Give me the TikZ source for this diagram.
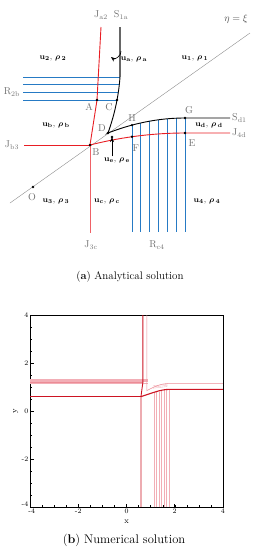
\documentclass[tikz,border=0pt]{standalone}
\usepackage{amsmath}
\usepackage{bm}
\usetikzlibrary{arrows.meta,positioning,calc}
\definecolor{vermelho}{RGB}{232,30,36}
\definecolor{azul}{RGB}{38,122,196}
\definecolor{rosa}{RGB}{236,140,150}
\definecolor{escuro}{RGB}{205,20,35}
\newcommand{\uro}[1]{$\mathbf{u}_{\mathbf{#1}},\,\boldsymbol{\rho}\,_{\mathbf{#1}}$}
\begin{document}
\begin{tikzpicture}[x=1pt, y=-1pt,
rotulo/.style={font=\fontsize{10}{11}\selectfont, text=black!55, inner sep=1pt},
estado/.style={font=\fontsize{8.5}{9}\selectfont, inner sep=1pt},
ponto/.style={circle, fill=black, inner sep=0pt, minimum size=2.6pt},
seta/.style={-{Stealth[length=1.8mm, width=1.4mm]}, semithick},
choque/.style={vermelho, line width=0.9pt},
onda/.style={azul, line width=0.9pt},
contato/.style={black, line width=0.9pt},
eixo/.style={font=\fontsize{7}{8}\selectfont, inner sep=1.5pt},
declare function={curvaS(\x)=118+15*((185-\x)/77)^2;
  curvaJ(\x)=133+12*((185-\x)/95)^2;
  curvaC(\y)=120-4*((\y-77)/56)-8*((\y-77)/56)^2;}
]
\useasboundingbox (0,0) rectangle (258,550);

% (a) analytical solution
\coordinate (A) at (97,100);
\coordinate (B) at (90,145);
\coordinate (C) at ({curvaC(100)},100);
\coordinate (D) at (108,133);
\coordinate (H) at (132,{curvaS(132)});
\coordinate (G) at (185,118);
\coordinate (F) at (132,{curvaJ(132)});
\coordinate (E) at (185,133);
\coordinate (O) at (33,187);
\coordinate (topoJ) at (101,27);
\coordinate (topoS) at (120,27);
\coordinate (dobra) at (120,77);
\coordinate (fimJb) at (24,145);
\coordinate (fimJc) at (90,233);
\coordinate (fimS) at (230,118);
\coordinate (fimJd) at (230,133);
\coordinate (diag1) at (10,203);
\coordinate (diag2) at (250,33);

\draw[black!45, thin] (diag1) -- (diag2);

% rarefaction fans
\foreach \yy in {77,84,92,100}
  \draw[onda] (23,\yy) -- ({curvaC(\yy)},\yy);
\foreach \xx in {132,140,149,158,167,176,185}
  \draw[onda] (\xx,{curvaS(\xx)}) -- (\xx,232);

% shocks
\draw[choque] (topoJ) -- (A) -- (B);
\draw[choque] (fimJb) -- (B);
\draw[choque, vermelho!70] (B) -- (fimJc);
\draw[choque] plot[domain=90:185, samples=30] (\x,{curvaJ(\x)}) -- (fimJd);

% contact
\draw[black!60, line width=1.2pt] (topoS) -- (dobra);
\draw[contato] plot[domain=77:133, samples=20] ({curvaC(\x)},\x)
  -- plot[domain=108:185, samples=30] (\x,{curvaS(\x)}) -- (fimS);

\foreach \p in {A,B,C,D,H,G,F,E,O}
  \node[ponto] at (\p) {};

\node[rotulo] (lJa) at (101,15) {J\textsubscript{a2}};
\node[rotulo] (lSa) at (121,15) {S\textsubscript{1a}};
\node[rotulo, text=black!70] (leta) at (236,19) {$\eta=\xi$};
\node[rotulo] (lR2b) at (12,92) {R\textsubscript{2b}};
\node[rotulo] (lJb) at (12,145) {J\textsubscript{b3}};
\node[rotulo] (lJc) at (91,245) {J\textsubscript{3c}};
\node[rotulo] (lRc) at (157,245) {R\textsubscript{c4}};
\node[rotulo, anchor=west] (lSd) at (231,118) {S\textsubscript{d1}};
\node[rotulo, anchor=west] (lJd) at (231,133) {J\textsubscript{4d}};
\node[rotulo] (lA) at (89,107) {A};
\node[rotulo] (lC) at (109,107) {C};
\node[rotulo] (lD) at (102,128) {D};
\node[rotulo] (lH) at (132,118) {H};
\node[rotulo] (lG) at (189,110) {G};
\node[rotulo] (lF) at (136,148) {F};
\node[rotulo] (lE) at (192,143) {E};
\node[rotulo] (lB) at (96,152) {B};
\node[rotulo] (lO) at (32,197) {O};

\node[estado] (s2) at (53,58) {\uro{2}};
\node[estado] (sa) at (134,59) {\uro{a}};
\node[estado] (s1) at (195,58) {\uro{1}};
\node[estado] (sb) at (56,125) {\uro{b}};
\node[estado] (sd) at (209,125) {\uro{d}};
\node[estado] (se) at (117,160) {\uro{e}};
\node[estado] (s3) at (56,201) {\uro{3}};
\node[estado] (sc) at (107,201) {\uro{c}};
\node[estado] (s4) at (207,201) {\uro{4}};

\coordinate (pe) at (112,137);
\node[ponto] at (pe) {};
\draw[seta] (se.north -| pe) -- (pe);
\coordinate (sa0) at (121,51);
\coordinate (sa1) at (111,57);
\draw[seta] (sa0) to[bend left=70] (sa1);

\node[font=\fontsize{11}{13}\selectfont] (capa) at (130,277) {(\textbf{a}) Analytical solution};

% (b) numerical solution
\begin{scope}[shift={(126.5pt,-411pt)}, x=24.1pt, y=24pt]
\draw[line width=0.7pt] (-4,-4) rectangle (4,4);
\foreach \t in {-2,0,2} {
  \draw[line width=0.6pt] (\t,-4) -- ++(0,3.5pt);
  \draw[line width=0.6pt] (-4,\t) -- ++(3.5pt,0);
}
\foreach \t in {-3.5,-3,...,3.5} {
  \draw[line width=0.3pt] (\t,-4) -- ++(0,1.8pt);
  \draw[line width=0.3pt] (-4,\t) -- ++(1.8pt,0);
}
\foreach \t in {-2,0,2,4} {
  \node[eixo, below] (tx\t) at (\t,-4) {\t};
}
\node[eixo, below] (tx-4) at (-3.93,-4) {-4};
\foreach \t in {-2,0,2,4} {
  \node[eixo, left] (ty\t) at (-4,\t) {\t};
}
\node[eixo, left] (ty-4) at (-4,-3.9) {-4};
\node[eixo, font=\fontsize{8}{9}\selectfont] (lx) at (0,-4.6) {x};
\node[eixo, font=\fontsize{8}{9}\selectfont, rotate=90] (ly) at (-4.6,0) {y};

% faint contour lines
\foreach \h in {1.18,1.23,1.28,1.32}
  \draw[rosa!70, line width=0.3pt] (-4,\h) -- (0.9,\h);
\foreach \v [count=\i] in {1.15,1.25,1.35,1.45,1.55,1.65,1.75}
  \draw[rosa!70, line width=0.3pt] (\v,-4) -- (\v,{0.72+0.03*\i});
\foreach \h in {0.95,1.0,1.05}
  \draw[rosa!70, line width=0.3pt] (1.1,\h) .. controls (1.4,\h+0.05) .. (1.7,\h+0.07);

\draw[rosa, line width=0.5pt] (0.85,4) -- (0.85,0.85)
  .. controls (1.2,1.05) and (1.5,1.15) .. (1.75,1.15) -- (4,1.15);
\draw[rosa, line width=0.5pt] (-4,1.18) -- (0.68,1.18);
\draw[escuro, line width=0.9pt] (0.6,-4) -- (0.6,0.6) -- (0.68,1.2) -- (0.68,4);
\draw[escuro, line width=0.7pt] (-4,0.6) -- (0.6,0.6);
\draw[escuro, line width=1.1pt] (0.6,0.6) .. controls (1.0,0.72) and (1.4,0.9) .. (1.75,0.9) -- (4,0.9);
\end{scope}

\node[font=\fontsize{12.5}{14}\selectfont] (capb) at (124,540) {(\textbf{b}) Numerical solution};
\end{tikzpicture}
\end{document}
